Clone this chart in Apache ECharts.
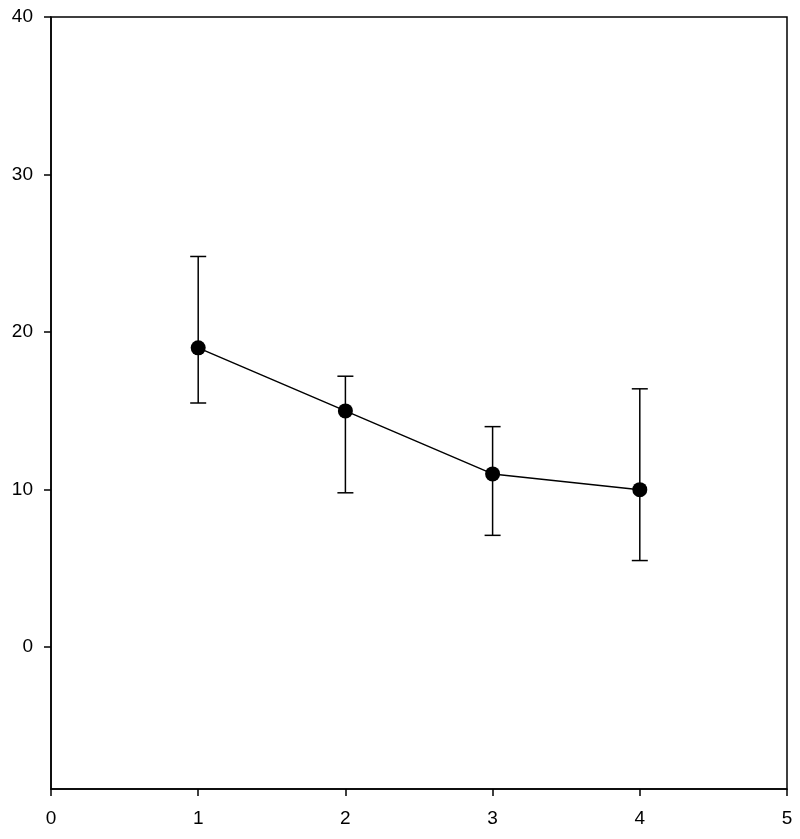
<!DOCTYPE html>
<html>
<head>
<meta charset="utf-8">
<script src="https://cdn.jsdelivr.net/npm/echarts@6/dist/echarts.min.js"></script>
<style>html,body{margin:0;padding:0;background:#fff}#c{width:800px;height:839px}</style>
</head>
<body>
<div id="c"></div>
<script>
var xValues = [1, 2, 3, 4];
var yMeans = [19, 15, 11, 10];
var yUpper = [24.8, 17.2, 14.0, 16.4];
var yLower = [15.5, 9.8, 7.1, 5.5];
var yTicks = [0, 10, 20, 30, 40];
var xTicks = [0, 1, 2, 3, 4, 5];

var chart = echarts.init(document.getElementById('c'));
var lineData = xValues.map(function (x, i) { return [x, yMeans[i]]; });
var errData = xValues.map(function (x, i) { return [x, yLower[i], yUpper[i]]; });
var font = 'Liberation Sans, Arial, sans-serif';

chart.setOption({
  animation: false,
  grid: { left: 51, top: 17, right: 13, bottom: 50, show: true, borderColor: '#000', borderWidth: 1.5, backgroundColor: 'transparent' },
  xAxis: {
    type: 'value', min: 0, max: 5, interval: 1,
    axisLine: { show: true, onZero: false, lineStyle: { color: '#000', width: 1.5 } },
    axisTick: { show: true, inside: false, length: 7, lineStyle: { color: '#000', width: 1.5 } },
    axisLabel: { color: '#000', fontSize: 19, fontFamily: font, margin: 20, customValues: xTicks },
    splitLine: { show: false }
  },
  yAxis: {
    type: 'value', min: -9, max: 40,
    axisLine: { show: true, onZero: false, lineStyle: { color: '#000', width: 1.5 } },
    axisTick: { show: true, inside: false, length: 7, lineStyle: { color: '#000', width: 1.5 }, customValues: yTicks },
    axisLabel: { color: '#000', fontSize: 19, fontFamily: font, margin: 18, customValues: yTicks },
    splitLine: { show: false }
  },
  series: [
    {
      type: 'custom',
      data: errData,
      z: 1,
      renderItem: function (params, api) {
        var x = api.value(0);
        var lo = api.coord([x, api.value(1)]);
        var hi = api.coord([x, api.value(2)]);
        var hw = 8;
        var st = { stroke: '#000', lineWidth: 1.5 };
        return {
          type: 'group',
          children: [
            { type: 'line', shape: { x1: lo[0], y1: lo[1], x2: hi[0], y2: hi[1] }, style: st },
            { type: 'line', shape: { x1: hi[0] - hw, y1: hi[1], x2: hi[0] + hw, y2: hi[1] }, style: st },
            { type: 'line', shape: { x1: lo[0] - hw, y1: lo[1], x2: lo[0] + hw, y2: lo[1] }, style: st }
          ]
        };
      }
    },
    {
      type: 'line',
      data: lineData,
      z: 2,
      symbol: 'circle',
      symbolSize: 15,
      itemStyle: { color: '#000' },
      lineStyle: { color: '#000', width: 1.5 }
    }
  ]
});
</script>
</body>
</html>
